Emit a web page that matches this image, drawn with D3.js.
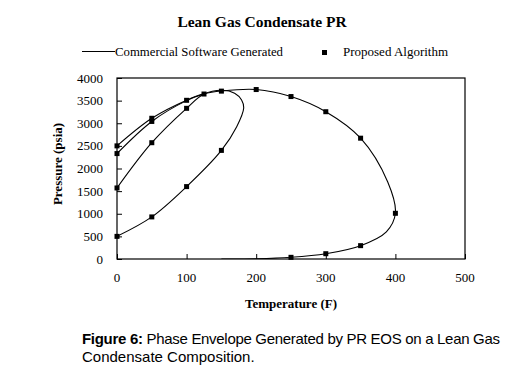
<!DOCTYPE html>
<html>
<head>
<meta charset="utf-8">
<script src="https://cdn.jsdelivr.net/npm/d3@7"></script>
<style>
  body { margin: 0; background: #fff; }
  svg { display: block; }
</style>
</head>
<body>
<div id="chart"></div>
<script>
// Commercial software envelopes (T in F, P in psia)
var outerEnvelope = [
  [0, 2500], [50, 3110], [100, 3510], [125, 3650], [150, 3712], [200, 3745],
  [250, 3590], [300, 3255], [350, 2670], [389, 1700], [400, 1010], [387, 600],
  [350, 295], [300, 117], [250, 37], [200, 5], [150, 0]
];
var secondBranch = [
  [0, 2330], [50, 3040], [100, 3500], [125, 3646]
];
var innerEnvelope = [
  [0, 500], [50, 930], [100, 1600], [150, 2400], [172, 2924], [182, 3330],
  [179, 3514], [169, 3662], [152, 3728], [125, 3646], [100, 3330], [50, 2570], [0, 1570]
];

// Proposed algorithm points
var proposed = [
  [0, 2500], [0, 2330], [0, 1570], [0, 500],
  [50, 3110], [50, 3040], [50, 2570], [50, 930],
  [100, 3507], [100, 3330], [100, 1600],
  [125, 3646], [150, 3710], [150, 2400], [200, 3745], [250, 3590],
  [300, 3255], [350, 2670], [400, 1010], [350, 295], [300, 117], [250, 37]
];

var xTicks = [0, 100, 200, 300, 400, 500];
var yTicks = [0, 500, 1000, 1500, 2000, 2500, 3000, 3500, 4000];

var width = 505, height = 368;
var margin = { top: 78, right: 40, bottom: 109, left: 117 };

var svg = d3.select("#chart").append("svg")
    .attr("width", width)
    .attr("height", height);

var x = d3.scaleLinear().domain([0, 500]).range([margin.left, width - margin.right]);
var y = d3.scaleLinear().domain([0, 4000]).range([height - margin.bottom, margin.top]);

var serif = "'Liberation Serif', 'Times New Roman', serif";
var sans = "'Liberation Sans', Arial, sans-serif";

// Title
svg.append("text")
    .attr("x", 262).attr("y", 27)
    .attr("text-anchor", "middle")
    .attr("font-family", serif).attr("font-weight", "bold").attr("font-size", 15.5)
    .text("Lean Gas Condensate PR");

// Legend
svg.append("line")
    .attr("x1", 82).attr("x2", 115).attr("y1", 51.5).attr("y2", 51.5)
    .attr("stroke", "#000").attr("stroke-width", 1);
svg.append("text")
    .attr("x", 115).attr("y", 56)
    .attr("font-family", serif).attr("font-size", 13)
    .attr("textLength", 168).attr("lengthAdjust", "spacingAndGlyphs")
    .text("Commercial Software Generated");
svg.append("rect")
    .attr("x", 322).attr("y", 50).attr("width", 5).attr("height", 5)
    .attr("fill", "#000");
svg.append("text")
    .attr("x", 343).attr("y", 56)
    .attr("font-family", serif).attr("font-size", 13)
    .text("Proposed Algorithm");

// Clip path for the plot area
svg.append("clipPath").attr("id", "plot")
  .append("rect")
    .attr("x", x(0)).attr("y", y(4000))
    .attr("width", x(500) - x(0)).attr("height", y(0) - y(4000));

// Axes with inside ticks
var xAxis = d3.axisTop(x).tickValues(xTicks).tickSize(5).tickFormat("");
var yAxis = d3.axisRight(y).tickValues(yTicks).tickSize(5).tickFormat("");

svg.append("g")
    .attr("transform", "translate(0," + y(0) + ")")
    .call(xAxis)
    .call(g => g.select(".domain").remove());
svg.append("g")
    .attr("transform", "translate(" + x(0) + ",0)")
    .call(yAxis)
    .call(g => g.select(".domain").remove());

// X tick labels
svg.append("g").selectAll("text")
    .data(xTicks).enter().append("text")
    .attr("x", d => x(d)).attr("y", y(0) + 23)
    .attr("text-anchor", "middle")
    .attr("font-family", serif).attr("font-size", 13)
    .text(d => d);

// Y tick labels
svg.append("g").selectAll("text")
    .data(yTicks).enter().append("text")
    .attr("x", x(0) - 14).attr("y", d => y(d) + 4.5)
    .attr("text-anchor", "end")
    .attr("font-family", serif).attr("font-size", 13)
    .text(d => d);

// Plot border
svg.append("rect")
    .attr("x", x(0)).attr("y", y(4000))
    .attr("width", x(500) - x(0)).attr("height", y(0) - y(4000))
    .attr("fill", "none").attr("stroke", "#000").attr("stroke-width", 1.2);

// Axis titles
svg.append("text")
    .attr("x", 291).attr("y", 308)
    .attr("text-anchor", "middle")
    .attr("font-family", serif).attr("font-weight", "bold").attr("font-size", 13)
    .text("Temperature (F)");
svg.append("text")
    .attr("transform", "translate(62," + 164 + ") rotate(-90)")
    .attr("text-anchor", "middle")
    .attr("font-family", serif).attr("font-weight", "bold").attr("font-size", 13)
    .text("Pressure (psia)");

// Lines
var line = d3.line()
    .curve(d3.curveCatmullRom.alpha(0.5))
    .x(d => x(d[0]))
    .y(d => y(d[1]));

var lines = svg.append("g").attr("clip-path", "url(#plot)");
[outerEnvelope, secondBranch, innerEnvelope].forEach(function(s) {
  lines.append("path")
      .datum(s)
      .attr("fill", "none")
      .attr("stroke", "#000")
      .attr("stroke-width", 1.1)
      .attr("d", line);
});

// Markers
svg.append("g").selectAll("rect")
    .data(proposed).enter().append("rect")
    .attr("x", d => x(d[0]) - 2.5)
    .attr("y", d => y(d[1]) - 2.5)
    .attr("width", 5).attr("height", 5)
    .attr("fill", "#000");

// Caption, first line stretched to the full width
var cap = svg.append("g").attr("font-family", sans).attr("font-size", 15);
var line1 = cap.append("text").attr("x", 82).attr("y", 344)
    .attr("textLength", 418).attr("lengthAdjust", "spacing");
line1.append("tspan").attr("font-weight", "bold").text("Figure 6:");
line1.append("tspan").text(" Phase Envelope Generated by PR EOS on a Lean Gas");

cap.append("text").attr("x", 82).attr("y", 362).text("Condensate Composition.");
</script>
</body>
</html>
